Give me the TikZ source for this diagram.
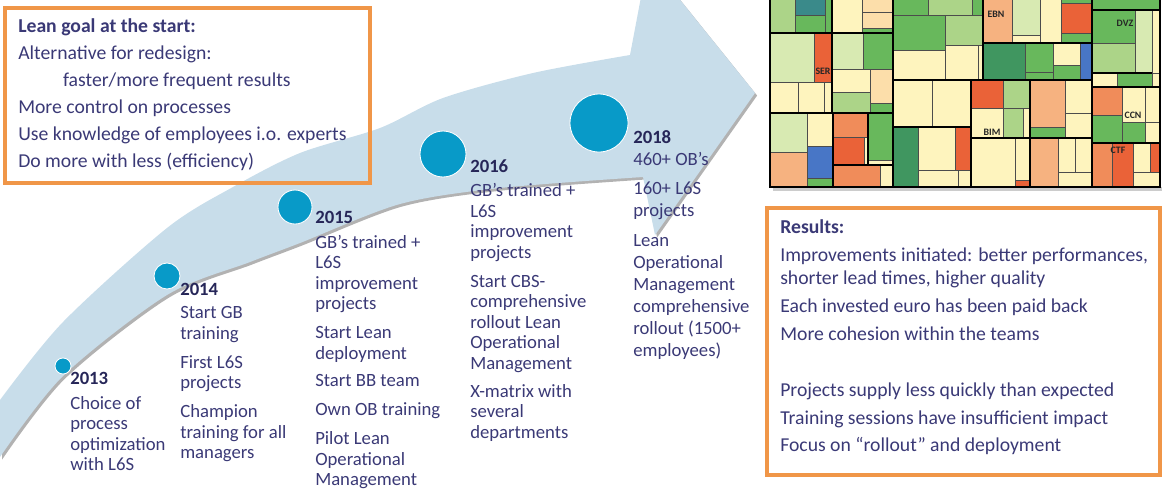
\documentclass[tikz,border=0pt]{standalone}
\usepackage{fontspec}
\setmainfont{Carlito}
\usepackage{tikz}
\usetikzlibrary{positioning}
\definecolor{bandblue}{RGB}{200,221,234}
\definecolor{dotblue}{RGB}{8,154,200}
\definecolor{boxorange}{RGB}{240,150,72}
\definecolor{inkblue}{RGB}{58,57,118}
\definecolor{yearink}{RGB}{38,38,88}
\definecolor{tmY}{RGB}{254,244,190}
\definecolor{tmVG}{RGB}{216,234,178}
\definecolor{tmLG}{RGB}{172,212,136}
\definecolor{tmG}{RGB}{104,184,92}
\definecolor{tmDG}{RGB}{64,150,96}
\definecolor{tmP}{RGB}{252,222,170}
\definecolor{tmO}{RGB}{246,178,128}
\definecolor{tmOR}{RGB}{240,140,90}
\definecolor{tmR}{RGB}{234,98,56}
\definecolor{tmB}{RGB}{72,118,198}
\definecolor{tmT}{RGB}{58,138,138}
\def\Band{plot[smooth] coordinates {(0,457) (63,376) (167,295) (250,262) (300,243) (400,204) (500,188) (643,177)}
    -- (655,235) -- (755,93) -- (648,-40) -- (630,55)
    -- plot[smooth] coordinates {(630,55) (533,73) (443,98) (380,128) (300,153) (233,187) (167,228) (63,322) (0,400)} -- cycle}
\def\yr#1{{\color{yearink}\bfseries #1}}

\begin{document}
\begin{tikzpicture}[x=0.025cm, y=-0.025cm,
    dot/.style={circle, fill=dotblue, draw=white, line width=0.6pt, inner sep=0pt},
    stage/.style={align=left, inner sep=0pt, anchor=north west, text=inkblue, font=\fontsize{13.3}{14.6}\selectfont},
    boxtext/.style={align=left, inner sep=0pt, anchor=north west, text=inkblue},
    frame/.style={draw=boxorange, line width=2.2pt},
    cell/.style={draw=black!70, line width=0.3pt},
    section/.style={draw=black, line width=1.2pt},
    tmlabel/.style={inner sep=0pt, text=black!85, font=\bfseries\fontsize{7}{7}\selectfont}]
    \useasboundingbox (0,0) rectangle (1162,495);
    \clip (0,0) rectangle (1162,495);

    % the arrow
    \fill[black!55, opacity=0.55, xshift=1.5pt, yshift=-1.8pt] \Band;
    \fill[bandblue] \Band;

    % treemap
    \fill[black!20] (773,187) rectangle (1162,191);
    \fill[tmY] (770,-5) rectangle (1160,187);
    \foreach \a/\b/\c/\d/\col in {
        770/-5/795/33/tmLG, 795/-5/825/15/tmT, 795/15/825/33/tmG, 825/-5/832/33/tmG,
        832/-5/862/33/tmY, 862/-5/893/12/tmP, 862/12/893/28/tmP, 862/28/893/33/tmG,
        770/33/814/82/tmVG, 814/33/832/82/tmR, 770/82/798/113/tmY, 798/82/824/113/tmY,
        824/82/832/113/tmY, 832/33/863/69/tmVG, 863/33/893/69/tmG, 832/69/870/92/tmY,
        870/69/893/103/tmP, 832/92/870/113/tmLG, 870/103/893/113/tmG,
        770/113/807/152/tmVG, 807/113/833/146/tmY, 770/152/807/187/tmO, 807/146/833/178/tmB,
        807/178/833/187/tmG, 833/113/868/137/tmOR, 833/137/864/165/tmR, 864/137/868/165/tmY,
        868/113/893/160/tmG, 868/160/893/165/tmY, 833/165/880/187/tmOR, 880/165/893/187/tmY,
        893/-5/928/15/tmG, 928/-5/972/15/tmLG, 972/-5/983/15/tmG, 893/15/945/50/tmG,
        945/15/983/45/tmLG, 893/50/945/80/tmY, 945/45/978/80/tmY, 978/45/983/80/tmY,
        983/-5/1012/43/tmO, 1012/-5/1040/35/tmVG, 1012/35/1040/43/tmY, 1040/-5/1061/43/tmY,
        1061/-5/1092/3/tmG, 1061/3/1092/33/tmR, 1061/33/1092/43/tmG,
        983/43/1025/80/tmDG, 1025/43/1053/72/tmG, 1025/72/1053/80/tmG, 1053/43/1080/65/tmY,
        1053/65/1080/80/tmG, 1080/43/1092/80/tmB,
        893/80/932/127/tmY, 932/80/971/127/tmY, 893/127/918/187/tmDG, 918/127/955/170/tmY,
        955/127/971/170/tmR, 918/170/958/187/tmY, 958/170/971/187/tmY,
        971/80/1003/108/tmR, 1003/80/1030/108/tmLG, 971/108/1003/138/tmY, 1003/108/1023/138/tmLG,
        1023/108/1030/138/tmY, 1030/80/1065/127/tmO, 1065/80/1092/113/tmY, 1065/113/1092/138/tmY,
        1030/127/1065/138/tmG, 971/138/1015/187/tmY, 1015/138/1030/180/tmY, 1015/180/1030/187/tmR,
        1030/138/1058/187/tmO, 1058/138/1075/172/tmY, 1075/138/1092/172/tmY, 1058/172/1092/187/tmY,
        1092/-5/1160/10/tmG, 1092/10/1135/43/tmG, 1135/10/1152/73/tmVG, 1152/10/1160/73/tmY,
        1092/43/1135/73/tmLG, 1092/73/1117/87/tmY, 1117/73/1152/87/tmG, 1152/73/1160/87/tmY,
        1092/87/1122/115/tmOR, 1122/87/1145/122/tmY, 1145/87/1160/122/tmY, 1092/115/1122/143/tmG,
        1122/122/1145/143/tmG, 1145/122/1160/143/tmY, 1092/143/1112/187/tmOR, 1112/143/1133/187/tmR,
        1133/143/1150/172/tmY, 1150/143/1160/172/tmR, 1133/172/1160/187/tmY}
        {\draw[cell, fill=\col] (\a,\b) rectangle (\c,\d);}
    \draw[section] (770,-5) rectangle (1160,187);
    \draw[section] (893,-5) -- (893,187) (1092,-5) -- (1092,187)
        (770,33) -- (893,33) (770,113) -- (893,113) (832,-5) -- (832,113) (833,113) -- (833,187)
        (833,165) -- (893,165) (868,113) -- (868,165) (893,127) -- (971,127)
        (893,80) -- (1092,80) (983,-5) -- (983,80) (983,43) -- (1092,43)
        (971,80) -- (971,187) (971,138) -- (1092,138) (1030,80) -- (1030,187)
        (1092,10) -- (1160,10) (1092,73) -- (1152,73) (1092,87) -- (1160,87) (1092,143) -- (1160,143);
    \node[tmlabel] (ser) at (823,71) {SER};
    \node[tmlabel] (ebn) at (996,14) {EBN};
    \node[tmlabel] (dvz) at (1125,23) {DVZ};
    \node[tmlabel] (ccn) at (1133,115) {CCN};
    \node[tmlabel] (bim) at (992,132) {BIM};
    \node[tmlabel] (ctf) at (1118,150) {CTF};

    % milestones
    \node[dot, minimum size=0.4cm] (c13) at (63,366) {};
    \node[dot, minimum size=0.65cm] (c14) at (167,276) {};
    \node[dot, minimum size=0.85cm] (c15) at (295,207) {};
    \node[dot, minimum size=1.15cm] (c16) at (443,154) {};
    \node[dot, minimum size=1.45cm] (c18) at (599,123) {};

    \node[stage] (s13) at (70,372) {\yr{2013}\\[3pt]Choice of\\process\\optimization\\with L6S};
    \node[stage] (s14) at (180,283) {\yr{2014}\\[2pt]Start GB\\training\\[6pt]First L6S\\projects\\[6pt]Champion\\training for all\\managers};
    \node[stage] (s15) at (315,211) {\yr{2015}\\[3pt]GB’s trained +\\L6S\\improvement\\projects\\[6pt]Start Lean\\deployment\\[5pt]Start BB team\\[6pt]Own OB training\\[6pt]Pilot Lean\\Operational\\Management};
    \node[stage] (s16) at (470,159) {\yr{2016}\\[3pt]GB’s trained +\\L6S\\improvement\\projects\\[6pt]Start CBS-\\comprehensive\\rollout Lean\\Operational\\Management\\[5pt]X-matrix with\\several\\departments};
    \node[stage, font=\fontsize{13.3}{15.6}\selectfont] (s18) at (633,130) {\yr{2018}\\460+ OB’s\\[5.5pt]160+ L6S\\projects\\[5.5pt]Lean\\Operational\\Management\\comprehensive\\rollout (1500+\\employees)};

    % boxes
    \draw[frame] (5,8) rectangle (370,183);
    \node[boxtext, font=\fontsize{14}{19.2}\selectfont] (goal) at (18,18) {\textbf{Lean goal at the start:}\\Alternative for redesign:\\\hspace*{1.12cm}faster/more frequent results\\More control on processes\\Use knowledge of employees i.o. experts\\Do more with less (efficiency)};
    \draw[frame] (767,208) rectangle (1160,475);
    \node[boxtext, font=\fontsize{14}{16.3}\selectfont] (results) at (780,219) {\textbf{Results:}\\[4.2pt]Improvements initiated: better performances,\\shorter lead times, higher quality\\[3.5pt]Each invested euro has been paid back\\[3.5pt]More cohesion within the teams\\[23.3pt]Projects supply less quickly than expected\\[3.5pt]Training sessions have insufficient impact\\[3.5pt]Focus on “rollout” and deployment};
\end{tikzpicture}
\end{document}
